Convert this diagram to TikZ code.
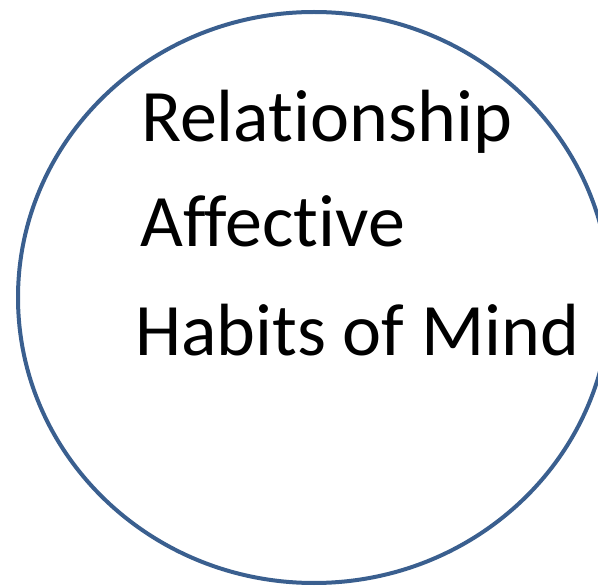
\documentclass[tikz,border=0pt]{standalone}
\usepackage{fontspec}
\setmainfont{Carlito}[Ligatures={NoCommon}]
\definecolor{ringblue}{HTML}{3A5F8F}
\begin{document}
\begin{tikzpicture}[x=1pt,y=-1pt,
  label/.style={anchor=base west,inner sep=0pt,font=\fontsize{74}{80}\selectfont}]
\useasboundingbox (0,0) rectangle (598,588);
\clip (0,0) rectangle (598,588);
\draw[ringblue,line width=4pt] (314,297.5) ellipse [x radius=296, y radius=285.5];
\node[label] (rel) at (141,142) {Relationship};
\node[label] (aff) at (140,247) {Affective};
\node[label] (hab) at (135,356) {Habits of Mind};
\end{tikzpicture}
\end{document}
